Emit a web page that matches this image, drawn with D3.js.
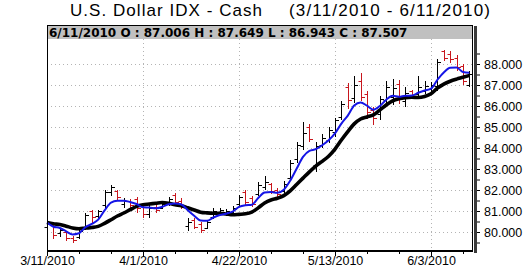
<!DOCTYPE html>
<html>
<head>
<meta charset="utf-8">
<script src="https://cdn.jsdelivr.net/npm/d3@7"></script>
<style>
  body { margin: 0; background: #fff; }
  svg { display: block; }
  .axis text { font-family: "Liberation Sans", Arial, sans-serif; font-size: 12.5px; fill: #000; }
  .axis path { display: none; }
  .axis line { stroke: #000; }
</style>
</head>
<body>
<svg id="chart"></svg>
<script>
// trading days shown on the chart
const dates = [
  "3/11/2010","3/12/2010","3/15/2010","3/16/2010","3/17/2010","3/18/2010","3/19/2010",
  "3/22/2010","3/23/2010","3/24/2010","3/25/2010","3/26/2010","3/29/2010","3/30/2010","3/31/2010",
  "4/1/2010","4/2/2010","4/5/2010","4/6/2010","4/7/2010","4/8/2010","4/9/2010",
  "4/12/2010","4/13/2010","4/14/2010","4/15/2010","4/16/2010","4/19/2010","4/20/2010","4/21/2010",
  "4/22/2010","4/23/2010","4/26/2010","4/27/2010","4/28/2010","4/29/2010","4/30/2010",
  "5/3/2010","5/4/2010","5/5/2010","5/6/2010","5/7/2010","5/10/2010","5/11/2010","5/12/2010",
  "5/13/2010","5/14/2010","5/17/2010","5/18/2010","5/19/2010","5/20/2010","5/21/2010",
  "5/24/2010","5/25/2010","5/26/2010","5/27/2010","5/28/2010","5/31/2010",
  "6/1/2010","6/2/2010","6/3/2010","6/4/2010","6/7/2010","6/8/2010","6/9/2010","6/10/2010","6/11/2010"
];

const opens = [
  80.25, 80.35, 79.95, 80.02, 79.72, 79.75, 80.20, 81.00, 80.75, 81.30, 81.90, 81.95, 81.35, 81.50, 81.55,
  81.30, 80.85, 81.20, 81.15, 81.35, 81.75, 81.50, 80.30, 80.55, 80.40, 80.20, 80.70, 80.90, 80.85, 80.95,
  81.35, 81.90, 81.60, 81.80, 82.15, 82.30, 82.00, 81.95, 82.55, 83.50, 84.10, 85.00, 83.20, 84.15, 84.40,
  84.75, 85.50, 86.90, 86.40, 87.20, 86.55, 85.80, 85.60, 86.30, 86.45, 87.05, 86.25, 86.70,
  86.55, 86.70, 86.80, 86.95, 88.60, 88.50, 88.30, 87.90, 87.006
];
const highs = [
  80.55, 80.40, 80.13, 80.05, 79.80, 80.15, 80.90, 81.05, 81.05, 81.99, 82.24, 81.99, 81.60, 81.55, 81.68,
  81.37, 81.29, 81.29, 81.44, 81.68, 81.84, 81.60, 80.65, 80.65, 80.49, 80.57, 81.13, 81.15, 81.10, 81.25,
  81.75, 82.00, 81.70, 82.40, 82.65, 82.35, 82.10, 82.45, 83.45, 84.30, 85.25, 85.15, 84.30, 84.65, 85.00,
  85.45, 86.25, 87.10, 87.45, 87.55, 86.70, 85.95, 86.50, 87.20, 87.30, 87.25, 86.90, 86.75,
  87.45, 87.20, 87.15, 88.25, 88.68, 88.60, 88.42, 88.00, 87.649
];
const lows = [
  80.15, 79.70, 79.81, 79.60, 79.54, 79.70, 80.15, 80.45, 80.65, 81.21, 81.76, 81.52, 81.21, 81.15, 80.97,
  80.73, 80.73, 80.97, 81.13, 81.29, 81.37, 81.13, 80.10, 80.17, 80.02, 80.17, 80.65, 80.85, 80.80, 80.90,
  81.30, 81.30, 81.25, 81.75, 82.05, 81.85, 81.70, 81.90, 82.50, 83.35, 83.95, 84.35, 82.90, 84.05, 84.30,
  84.55, 85.40, 85.90, 86.20, 86.30, 85.45, 85.15, 85.40, 86.15, 86.10, 86.15, 86.00, 86.40,
  86.40, 86.60, 86.70, 86.75, 88.20, 88.10, 87.70, 87.05, 86.943
];
const closes = [
  80.45, 79.85, 80.08, 79.70, 79.60, 80.05, 80.80, 80.70, 81.00, 81.90, 82.15, 81.65, 81.50, 81.30, 81.15,
  80.85, 81.15, 81.05, 81.35, 81.55, 81.45, 81.20, 80.50, 80.25, 80.10, 80.50, 81.00, 81.05, 81.00, 81.15,
  81.65, 81.45, 81.35, 82.25, 82.40, 81.95, 81.80, 82.30, 83.30, 84.15, 84.70, 84.45, 84.10, 84.50, 84.85,
  85.35, 86.10, 86.30, 87.00, 86.45, 85.70, 85.45, 86.35, 86.90, 86.85, 86.35, 86.60, 86.50,
  86.90, 86.95, 87.00, 88.10, 88.30, 88.25, 87.85, 87.20, 87.507
];

const priceTicks = [80, 81, 82, 83, 84, 85, 86, 87, 88];
const dateTickIdx = [0, 15, 30, 45, 60];

const W = 525, H = 268;
const frame = { left: 47, right: 472, top: 25, head: 39, bottom: 250 };

const svg = d3.select("#chart").attr("width", W).attr("height", H);

const x = d3.scaleLinear().domain([0, dates.length - 1]).range([47, 469.4]);
const y = d3.scaleLinear().domain([80, 88]).range([232, 64]);
const px = v => Math.round(v) + 0.5;

// moving averages: fast EMA (blue) and 10-day SMA (black)
const emaFast = [];
closes.forEach((c, i) => {
  emaFast.push(i === 0 ? c : emaFast[i - 1] + (c - emaFast[i - 1]) / 3);
});
const sma10 = closes.map((c, i) => {
  let s = 0;
  for (let k = i - 9; k <= i; k++) s += closes[Math.max(k, 0)];
  return s / 10;
});

// title
svg.append("text")
  .attr("x", 70).attr("y", 15.5)
  .attr("textLength", 192).attr("lengthAdjust", "spacing")
  .style("font-family", "'Liberation Sans', Arial, sans-serif")
  .style("font-size", "17px")
  .text("U.S. Dollar IDX -  Cash");
svg.append("text")
  .attr("x", 289).attr("y", 15.5)
  .attr("textLength", 201).attr("lengthAdjust", "spacing")
  .style("font-family", "'Liberation Sans', Arial, sans-serif")
  .style("font-size", "17px")
  .text("(3/11/2010 - 6/11/2010)");

// grid
const grid = svg.append("g")
  .attr("stroke", "#b4b4b4")
  .attr("stroke-dasharray", "1,3");
grid.selectAll(".hg").data(priceTicks).join("line")
  .attr("x1", frame.left).attr("x2", frame.right)
  .attr("y1", d => px(y(d))).attr("y2", d => px(y(d)));
grid.selectAll(".vg").data(dateTickIdx.slice(1)).join("line")
  .attr("x1", d => px(x(d))).attr("x2", d => px(x(d)))
  .attr("y1", frame.head).attr("y2", frame.bottom);

// OHLC bars
const bars = svg.append("g")
  .selectAll("g")
  .data(d3.range(dates.length))
  .join("g")
  .attr("stroke", i => closes[i] >= opens[i] ? "#000" : "#c8161d")
  .attr("stroke-width", 1);
bars.append("line")
  .attr("x1", i => px(x(i))).attr("x2", i => px(x(i)))
  .attr("y1", i => Math.round(y(highs[i]))).attr("y2", i => Math.round(y(lows[i])) + 1);
bars.append("line")
  .attr("x1", i => px(x(i)) - 3).attr("x2", i => px(x(i)))
  .attr("y1", i => px(y(opens[i]))).attr("y2", i => px(y(opens[i])));
bars.append("line")
  .attr("x1", i => px(x(i))).attr("x2", i => px(x(i)) + 3.5)
  .attr("y1", i => px(y(closes[i]))).attr("y2", i => px(y(closes[i])));

// moving average lines
const line = d3.line()
  .x((d, i) => x(i))
  .y(d => y(d))
  .curve(d3.curveMonotoneX);
svg.append("path")
  .datum(sma10)
  .attr("fill", "none")
  .attr("stroke", "#000")
  .attr("stroke-width", 3.6)
  .attr("d", line);
svg.append("path")
  .datum(emaFast)
  .attr("fill", "none")
  .attr("stroke", "#1515e6")
  .attr("stroke-width", 2)
  .attr("d", line);

// header strip with last bar values
svg.append("rect")
  .attr("x", frame.left).attr("y", frame.top)
  .attr("width", frame.right - frame.left).attr("height", frame.head - frame.top)
  .attr("fill", "#c0c0c0");
const last = dates.length - 1;
svg.append("text")
  .attr("x", 49).attr("y", 37)
  .style("font-family", "'DejaVu Sans', Verdana, sans-serif")
  .style("font-size", "12px")
  .style("font-weight", "bold")
  .text(`${dates[last]} O : ${opens[last].toFixed(3)} H : ${highs[last].toFixed(3)} L : ${lows[last].toFixed(3)} C : ${closes[last].toFixed(3)}`);

// frame
svg.append("rect")
  .attr("x", frame.left + 0.5).attr("y", frame.top + 0.5)
  .attr("width", frame.right - frame.left).attr("height", frame.bottom - frame.top)
  .attr("fill", "none").attr("stroke", "#000");
svg.append("line")
  .attr("x1", frame.left).attr("x2", frame.right + 1)
  .attr("y1", frame.bottom + 1.5).attr("y2", frame.bottom + 1.5)
  .attr("stroke", "#000");
svg.append("rect")
  .attr("x", frame.right + 2).attr("y", frame.top + 1)
  .attr("width", 3).attr("height", frame.bottom - frame.top + 2)
  .attr("fill", "#3a3a3a");

// y axis on the right
svg.append("g")
  .attr("class", "axis")
  .attr("transform", `translate(${frame.right + 5},0)`)
  .call(d3.axisRight(y).tickValues(d3.range(79.5, 88.6, 0.5)).tickSize(3).tickFormat(""));
svg.append("g")
  .attr("class", "axis")
  .attr("transform", `translate(${frame.right + 5},0)`)
  .call(d3.axisRight(y).tickValues(priceTicks).tickSize(3).tickPadding(4).tickFormat(d3.format(".3f")));

// x axis
svg.append("g")
  .attr("class", "axis")
  .attr("transform", `translate(0,${frame.bottom + 2})`)
  .call(d3.axisBottom(x).tickValues(d3.range(0, dates.length, 5)).tickSize(2).tickFormat(""));
svg.append("g")
  .attr("class", "axis")
  .attr("transform", `translate(0,${frame.bottom + 2})`)
  .call(d3.axisBottom(x).tickValues(dateTickIdx).tickSize(4).tickPadding(0.5).tickFormat(i => dates[i]));
</script>
</body>
</html>
